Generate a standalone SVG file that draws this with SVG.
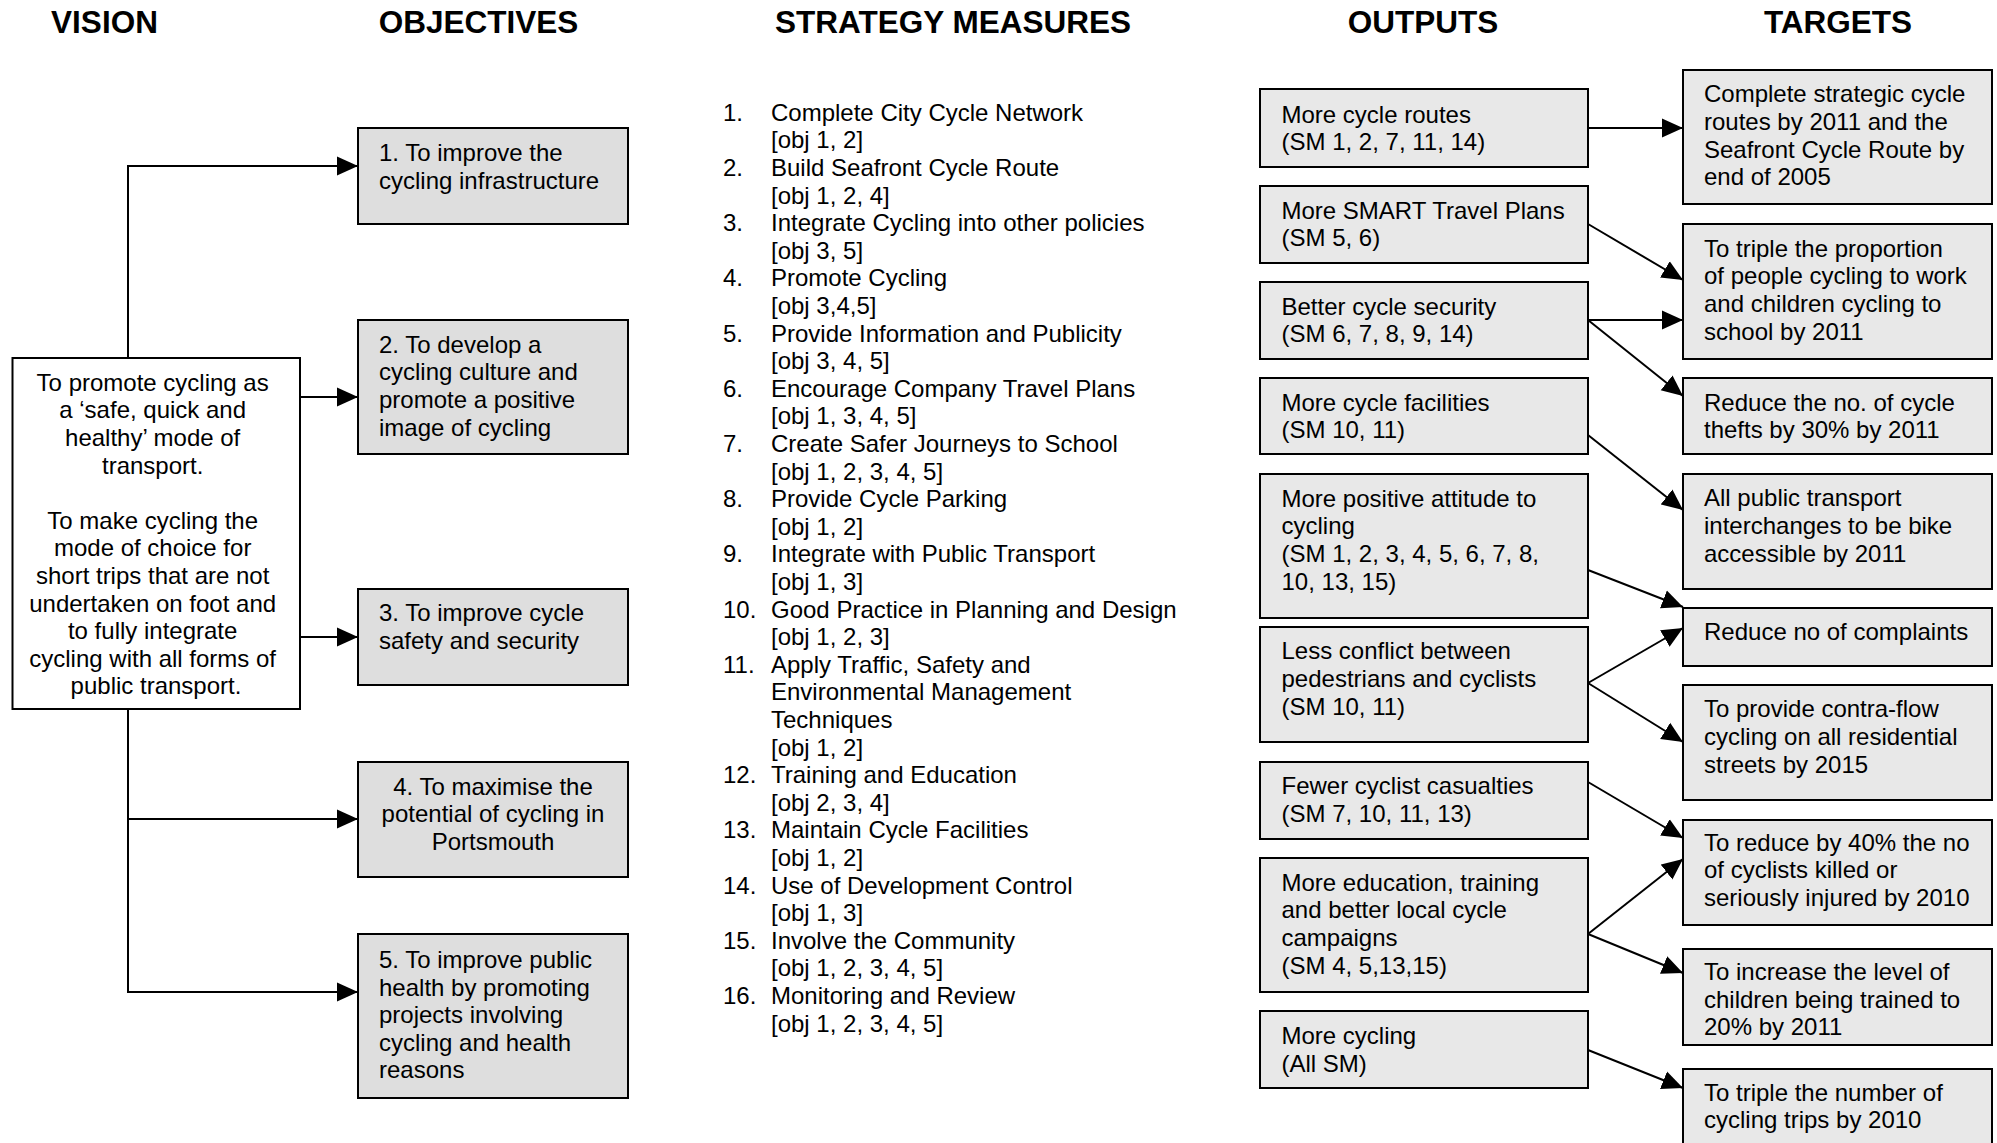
<svg xmlns="http://www.w3.org/2000/svg" width="1997" height="1143" viewBox="0 0 1997 1143">
<style>
text{font-family:"Liberation Sans",Arial,sans-serif;font-size:24px;fill:#000}
.h{font-size:31.5px;font-weight:bold;text-anchor:middle}
.c{text-anchor:middle}
.v{fill:#fff;stroke:#000;stroke-width:2}
.o{fill:#dedede;stroke:#000;stroke-width:2}
.b{fill:#e8e8e8;stroke:#000;stroke-width:2}
.ln{fill:none;stroke:#000;stroke-width:2}
</style>
<defs>
<marker id="ah" markerUnits="userSpaceOnUse" markerWidth="22" markerHeight="20" viewBox="0 0 22 20" refX="21" refY="10" orient="auto">
<path d="M0,0.5 L21,10 L0,19.5 z" fill="#000"/>
</marker>
</defs>

<g id="headers">
<text class="h" x="104.5" y="33">VISION</text>
<text class="h" x="478.5" y="33">OBJECTIVES</text>
<text class="h" x="953" y="33">STRATEGY MEASURES</text>
<text class="h" x="1423" y="33">OUTPUTS</text>
<text class="h" x="1838" y="33">TARGETS</text>
</g>

<g id="connectors">
<path class="ln" d="M128,358 V166 H358" marker-end="url(#ah)"/>
<path class="ln" d="M300,397 H358" marker-end="url(#ah)"/>
<path class="ln" d="M300,637 H358" marker-end="url(#ah)"/>
<path class="ln" d="M128,709 V992 H358" marker-end="url(#ah)"/>
<path class="ln" d="M128,819 H358" marker-end="url(#ah)"/>
<path class="ln" d="M1588,128 H1683" marker-end="url(#ah)"/>
<path class="ln" d="M1588,224 L1683,280" marker-end="url(#ah)"/>
<path class="ln" d="M1588,320 H1683" marker-end="url(#ah)"/>
<path class="ln" d="M1588,320 L1683,396" marker-end="url(#ah)"/>
<path class="ln" d="M1588,435 L1683,510" marker-end="url(#ah)"/>
<path class="ln" d="M1588,570 L1683,607" marker-end="url(#ah)"/>
<path class="ln" d="M1588,683 L1683,628" marker-end="url(#ah)"/>
<path class="ln" d="M1588,683 L1683,742" marker-end="url(#ah)"/>
<path class="ln" d="M1588,782 L1683,838" marker-end="url(#ah)"/>
<path class="ln" d="M1588,934 L1683,859" marker-end="url(#ah)"/>
<path class="ln" d="M1588,934 L1683,973" marker-end="url(#ah)"/>
<path class="ln" d="M1588,1050 L1683,1088" marker-end="url(#ah)"/>
</g>

<g id="vision">
<rect class="v" x="12.5" y="358" width="287.5" height="351"/>
<text class="c" x="156">
<tspan x="156" y="390.7">To promote cycling as</tspan>
<tspan x="156" y="418.3">a ‘safe, quick and</tspan>
<tspan x="156" y="445.9">healthy’ mode of</tspan>
<tspan x="156" y="473.5">transport.</tspan>
<tspan x="156" y="528.7">To make cycling the</tspan>
<tspan x="156" y="556.3">mode of choice for</tspan>
<tspan x="156" y="583.9">short trips that are not</tspan>
<tspan x="156" y="611.5">undertaken on foot and</tspan>
<tspan x="156" y="639.1">to fully integrate</tspan>
<tspan x="156" y="666.7">cycling with all forms of</tspan>
<tspan x="156" y="694.3">public transport.</tspan>
</text>
</g>

<g id="obj1">
<rect class="o" x="358" y="128" width="270" height="96"/>
<text><tspan x="379" y="161">1. To improve the</tspan><tspan x="379" y="188.6">cycling infrastructure</tspan></text>
</g>
<g id="obj2">
<rect class="o" x="358" y="320" width="270" height="134"/>
<text><tspan x="379" y="352.7">2. To develop a</tspan><tspan x="379" y="380.3">cycling culture and</tspan><tspan x="379" y="407.9">promote a positive</tspan><tspan x="379" y="435.5">image of cycling</tspan></text>
</g>
<g id="obj3">
<rect class="o" x="358" y="589" width="270" height="96"/>
<text><tspan x="379" y="621">3. To improve cycle</tspan><tspan x="379" y="648.6">safety and security</tspan></text>
</g>
<g id="obj4">
<rect class="o" x="358" y="762" width="270" height="115"/>
<text class="c"><tspan x="493" y="794.5">4. To maximise the</tspan><tspan x="493" y="822.1">potential of cycling in</tspan><tspan x="493" y="849.7">Portsmouth</tspan></text>
</g>
<g id="obj5">
<rect class="o" x="358" y="934" width="270" height="164"/>
<text><tspan x="379" y="968">5. To improve public</tspan><tspan x="379" y="995.6">health by promoting</tspan><tspan x="379" y="1023.2">projects involving</tspan><tspan x="379" y="1050.8">cycling and health</tspan><tspan x="379" y="1078.4">reasons</tspan></text>
</g>

<g id="strategy-measures">
<text>
<tspan x="723" y="120.7">1.</tspan><tspan x="771" y="120.7">Complete City Cycle Network</tspan>
<tspan x="771" y="148.3">[obj 1, 2]</tspan>
<tspan x="723" y="175.9">2.</tspan><tspan x="771" y="175.9">Build Seafront Cycle Route</tspan>
<tspan x="771" y="203.5">[obj 1, 2, 4]</tspan>
<tspan x="723" y="231.1">3.</tspan><tspan x="771" y="231.1">Integrate Cycling into other policies</tspan>
<tspan x="771" y="258.7">[obj 3, 5]</tspan>
<tspan x="723" y="286.3">4.</tspan><tspan x="771" y="286.3">Promote Cycling</tspan>
<tspan x="771" y="313.9">[obj 3,4,5]</tspan>
<tspan x="723" y="341.5">5.</tspan><tspan x="771" y="341.5">Provide Information and Publicity</tspan>
<tspan x="771" y="369.1">[obj 3, 4, 5]</tspan>
<tspan x="723" y="396.7">6.</tspan><tspan x="771" y="396.7">Encourage Company Travel Plans</tspan>
<tspan x="771" y="424.3">[obj 1, 3, 4, 5]</tspan>
<tspan x="723" y="451.9">7.</tspan><tspan x="771" y="451.9">Create Safer Journeys to School</tspan>
<tspan x="771" y="479.5">[obj 1, 2, 3, 4, 5]</tspan>
<tspan x="723" y="507.1">8.</tspan><tspan x="771" y="507.1">Provide Cycle Parking</tspan>
<tspan x="771" y="534.7">[obj 1, 2]</tspan>
<tspan x="723" y="562.3">9.</tspan><tspan x="771" y="562.3">Integrate with Public Transport</tspan>
<tspan x="771" y="589.9">[obj 1, 3]</tspan>
<tspan x="723" y="617.5">10.</tspan><tspan x="771" y="617.5">Good Practice in Planning and Design</tspan>
<tspan x="771" y="645.1">[obj 1, 2, 3]</tspan>
<tspan x="723" y="672.7">11.</tspan><tspan x="771" y="672.7">Apply Traffic, Safety and</tspan>
<tspan x="771" y="700.3">Environmental Management</tspan>
<tspan x="771" y="727.9">Techniques</tspan>
<tspan x="771" y="755.5">[obj 1, 2]</tspan>
<tspan x="723" y="783.1">12.</tspan><tspan x="771" y="783.1">Training and Education</tspan>
<tspan x="771" y="810.7">[obj 2, 3, 4]</tspan>
<tspan x="723" y="838.3">13.</tspan><tspan x="771" y="838.3">Maintain Cycle Facilities</tspan>
<tspan x="771" y="865.9">[obj 1, 2]</tspan>
<tspan x="723" y="893.5">14.</tspan><tspan x="771" y="893.5">Use of Development Control</tspan>
<tspan x="771" y="921.1">[obj 1, 3]</tspan>
<tspan x="723" y="948.7">15.</tspan><tspan x="771" y="948.7">Involve the Community</tspan>
<tspan x="771" y="976.3">[obj 1, 2, 3, 4, 5]</tspan>
<tspan x="723" y="1003.9">16.</tspan><tspan x="771" y="1003.9">Monitoring and Review</tspan>
<tspan x="771" y="1031.5">[obj 1, 2, 3, 4, 5]</tspan>
</text>
</g>

<g id="out1">
<rect class="b" x="1260" y="89" width="328" height="78"/>
<text><tspan x="1281.5" y="122.7">More cycle routes</tspan><tspan x="1281.5" y="150.3">(SM 1, 2, 7, 11, 14)</tspan></text>
</g>
<g id="out2">
<rect class="b" x="1260" y="186" width="328" height="77"/>
<text><tspan x="1281.5" y="218.5">More SMART Travel Plans</tspan><tspan x="1281.5" y="246.1">(SM 5, 6)</tspan></text>
</g>
<g id="out3">
<rect class="b" x="1260" y="282" width="328" height="77"/>
<text><tspan x="1281.5" y="314.5">Better cycle security</tspan><tspan x="1281.5" y="342.1">(SM 6, 7, 8, 9, 14)</tspan></text>
</g>
<g id="out4">
<rect class="b" x="1260" y="378" width="328" height="76"/>
<text><tspan x="1281.5" y="410.7">More cycle facilities</tspan><tspan x="1281.5" y="438.3">(SM 10, 11)</tspan></text>
</g>
<g id="out5">
<rect class="b" x="1260" y="474" width="328" height="144"/>
<text><tspan x="1281.5" y="506.7">More positive attitude to</tspan><tspan x="1281.5" y="534.3">cycling</tspan><tspan x="1281.5" y="561.9">(SM 1, 2, 3, 4, 5, 6, 7, 8,</tspan><tspan x="1281.5" y="589.5">10, 13, 15)</tspan></text>
</g>
<g id="out6">
<rect class="b" x="1260" y="627" width="328" height="115"/>
<text><tspan x="1281.5" y="659.3">Less conflict between</tspan><tspan x="1281.5" y="686.9">pedestrians and cyclists</tspan><tspan x="1281.5" y="714.5">(SM 10, 11)</tspan></text>
</g>
<g id="out7">
<rect class="b" x="1260" y="762" width="328" height="77"/>
<text><tspan x="1281.5" y="794.3">Fewer cyclist casualties</tspan><tspan x="1281.5" y="821.9">(SM 7, 10, 11, 13)</tspan></text>
</g>
<g id="out8">
<rect class="b" x="1260" y="858" width="328" height="134"/>
<text><tspan x="1281.5" y="890.7">More education, training</tspan><tspan x="1281.5" y="918.3">and better local cycle</tspan><tspan x="1281.5" y="945.9">campaigns</tspan><tspan x="1281.5" y="973.5">(SM 4, 5,13,15)</tspan></text>
</g>
<g id="out9">
<rect class="b" x="1260" y="1011" width="328" height="77"/>
<text><tspan x="1281.5" y="1044">More cycling</tspan><tspan x="1281.5" y="1071.6">(All SM)</tspan></text>
</g>

<g id="tgt1">
<rect class="b" x="1683" y="70" width="309" height="134"/>
<text><tspan x="1704" y="102.3">Complete strategic cycle</tspan><tspan x="1704" y="129.9">routes by 2011 and the</tspan><tspan x="1704" y="157.5">Seafront Cycle Route by</tspan><tspan x="1704" y="185.1">end of 2005</tspan></text>
</g>
<g id="tgt2">
<rect class="b" x="1683" y="224" width="309" height="135"/>
<text><tspan x="1704" y="256.7">To triple the proportion</tspan><tspan x="1704" y="284.3">of people cycling to work</tspan><tspan x="1704" y="311.9">and children cycling to</tspan><tspan x="1704" y="339.5">school by 2011</tspan></text>
</g>
<g id="tgt3">
<rect class="b" x="1683" y="378" width="309" height="76"/>
<text><tspan x="1704" y="410.7">Reduce the no. of cycle</tspan><tspan x="1704" y="438.3">thefts by 30% by 2011</tspan></text>
</g>
<g id="tgt4">
<rect class="b" x="1683" y="474" width="309" height="115"/>
<text><tspan x="1704" y="506.3">All public transport</tspan><tspan x="1704" y="533.9">interchanges to be bike</tspan><tspan x="1704" y="561.5">accessible by 2011</tspan></text>
</g>
<g id="tgt5">
<rect class="b" x="1683" y="608" width="309" height="58"/>
<text><tspan x="1704" y="640">Reduce no of complaints</tspan></text>
</g>
<g id="tgt6">
<rect class="b" x="1683" y="685" width="309" height="115"/>
<text><tspan x="1704" y="717.3">To provide contra-flow</tspan><tspan x="1704" y="744.9">cycling on all residential</tspan><tspan x="1704" y="772.5">streets by 2015</tspan></text>
</g>
<g id="tgt7">
<rect class="b" x="1683" y="820" width="309" height="105"/>
<text><tspan x="1704" y="850.7">To reduce by 40% the no</tspan><tspan x="1704" y="878.3">of cyclists killed or</tspan><tspan x="1704" y="905.9">seriously injured by 2010</tspan></text>
</g>
<g id="tgt8">
<rect class="b" x="1683" y="949" width="309" height="96"/>
<text><tspan x="1704" y="980">To increase the level of</tspan><tspan x="1704" y="1007.6">children being trained to</tspan><tspan x="1704" y="1035.2">20% by 2011</tspan></text>
</g>
<g id="tgt9">
<rect class="b" x="1683" y="1069" width="309" height="78"/>
<text><tspan x="1704" y="1100.7">To triple the number of</tspan><tspan x="1704" y="1128.3">cycling trips by 2010</tspan></text>
</g>
</svg>
